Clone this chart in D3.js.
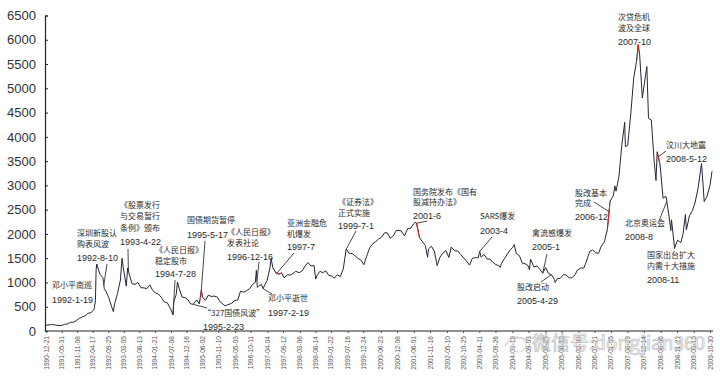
<!DOCTYPE html>
<html><head><meta charset="utf-8">
<script src="https://cdn.jsdelivr.net/npm/d3@7"></script>
<style>body{margin:0;background:#fff}svg{display:block}</style>
</head><body>
<svg id="c" width="720" height="377"></svg>
<script>
// ---- data (Shanghai Composite) ----
const dates = ["1990-12-19","1990-12-31","1991-01-31","1991-02-28","1991-03-29","1991-04-30","1991-05-31","1991-06-28","1991-07-31","1991-08-30","1991-09-30","1991-10-31","1991-11-29","1991-12-31",
"1992-01-31","1992-02-28","1992-03-31","1992-04-30","1992-05-15","1992-05-22","1992-05-29","1992-06-30","1992-07-31","1992-08-07","1992-08-14","1992-08-31","1992-09-30","1992-10-30","1992-11-17","1992-11-30","1992-12-31",
"1993-01-29","1993-02-15","1993-02-26","1993-03-31","1993-04-15","1993-04-30","1993-05-31","1993-06-30","1993-07-30","1993-08-31","1993-09-30","1993-10-29","1993-11-30","1993-12-31",
"1994-01-31","1994-02-28","1994-03-31","1994-04-29","1994-05-31","1994-06-30","1994-07-29","1994-08-05","1994-08-31","1994-09-13","1994-09-30","1994-10-31","1994-11-30","1994-12-30",
"1995-01-27","1995-02-24","1995-03-31","1995-04-28","1995-05-19","1995-05-31","1995-06-30","1995-07-31","1995-08-31","1995-09-29","1995-10-31","1995-11-30","1995-12-29",
"1996-01-19","1996-02-29","1996-03-29","1996-04-30","1996-05-31","1996-06-28","1996-07-31","1996-08-30","1996-09-30","1996-10-31","1996-11-29","1996-12-10","1996-12-20","1996-12-31",
"1997-01-31","1997-02-19","1997-02-28","1997-03-31","1997-04-30","1997-05-12","1997-05-30","1997-06-30","1997-07-31","1997-08-29","1997-09-23","1997-10-31","1997-11-28","1997-12-31",
"1998-01-23","1998-02-27","1998-03-31","1998-04-30","1998-05-29","1998-06-30","1998-07-31","1998-08-18","1998-08-31","1998-09-30","1998-10-30","1998-11-30","1998-12-31",
"1999-01-29","1999-02-26","1999-03-31","1999-04-30","1999-05-31","1999-06-30","1999-07-30","1999-08-31","1999-09-30","1999-10-29","1999-11-30","1999-12-30",
"2000-01-28","2000-02-29","2000-03-31","2000-04-28","2000-05-31","2000-06-30","2000-07-31","2000-08-31","2000-09-29","2000-10-31","2000-11-30","2000-12-29",
"2001-01-19","2001-02-23","2001-03-30","2001-04-30","2001-05-31","2001-06-14","2001-06-29","2001-07-31","2001-08-31","2001-09-28","2001-10-22","2001-10-31","2001-11-30","2001-12-31",
"2002-01-29","2002-02-28","2002-03-29","2002-04-30","2002-05-31","2002-06-24","2002-07-31","2002-08-30","2002-09-27","2002-10-31","2002-11-29","2002-12-31",
"2003-01-30","2003-02-28","2003-03-31","2003-04-16","2003-04-30","2003-05-30","2003-06-30","2003-07-31","2003-08-29","2003-09-30","2003-10-31","2003-11-14","2003-11-28","2003-12-31",
"2004-01-30","2004-02-27","2004-03-31","2004-04-07","2004-04-30","2004-05-31","2004-06-30","2004-07-30","2004-08-31","2004-09-13","2004-09-24","2004-10-29","2004-11-30","2004-12-31",
"2005-01-28","2005-02-28","2005-03-31","2005-04-29","2005-05-31","2005-06-06","2005-06-30","2005-07-29","2005-08-31","2005-09-30","2005-10-31","2005-11-30","2005-12-30",
"2006-01-25","2006-02-28","2006-03-31","2006-04-28","2006-05-31","2006-06-30","2006-07-31","2006-08-31","2006-09-29","2006-10-31","2006-11-30","2006-12-29",
"2007-01-31","2007-02-16","2007-02-28","2007-03-30","2007-04-30","2007-05-29","2007-06-05","2007-06-29","2007-07-31","2007-08-31","2007-09-28","2007-10-16","2007-10-31","2007-11-28","2007-12-31",
"2008-01-14","2008-01-31","2008-02-29","2008-03-31","2008-04-18","2008-04-30","2008-05-30","2008-06-30","2008-07-31","2008-08-29","2008-09-19","2008-09-26","2008-10-28","2008-10-31","2008-11-28","2008-12-31",
"2009-01-23","2009-02-17","2009-02-27","2009-03-31","2009-04-30","2009-05-27","2009-06-30","2009-07-31","2009-08-04","2009-08-31","2009-09-30","2009-10-30","2009-11-20"];
const values = [100,127,129,133,120,113,114,137,146,180,180,218,259,292,
313,365,377,445,620,1260,1380,1170,1100,1000,880,820,690,500,400,560,780,
1050,1500,1330,925,1300,1170,970,960,1000,890,890,870,950,833,
780,760,690,600,580,470,333,600,750,1010,880,700,690,647,
560,550,640,560,850,700,630,740,710,720,700,600,555,
520,550,570,630,640,820,800,830,870,960,1000,1250,900,917,
960,870,920,1040,1300,1500,1300,1200,1170,1200,1097,1160,1150,1194,
1230,1200,1240,1340,1410,1339,1350,1070,1140,1230,1200,1240,1147,
1135,1090,1158,1120,1280,1690,1600,1600,1550,1500,1460,1366,
1535,1714,1800,1836,1894,1928,2023,2021,1910,1961,2070,2073,
2065,1960,2112,2119,2214,2240,2218,1920,1834,1764,1520,1689,1747,1646,
1350,1524,1603,1657,1515,1730,1650,1650,1581,1506,1442,1357,
1500,1511,1510,1640,1521,1576,1486,1476,1421,1367,1348,1310,1397,1497,
1590,1675,1742,1780,1595,1555,1399,1386,1342,1260,1480,1320,1340,1266,
1191,1306,1181,1159,1060,1000,1080,1083,1162,1155,1092,1099,1161,
1258,1299,1298,1440,1641,1672,1612,1601,1752,1837,2099,2675,
2786,2990,2881,3183,3841,4300,3800,3820,4471,5218,5552,5900,5700,4800,5262,
5450,4383,4348,3472,3100,3693,3433,2736,2775,2397,2070,2290,1700,1729,1871,1821,
1990,2400,2082,2373,2477,2633,2959,3412,3450,2667,2779,2996,3290];

const yTicks = [0,500,1000,1500,2000,2500,3000,3500,4000,4500,5000,5500,6000,6500];
const xTickLabels = ["1990-12-21","1991-05-31","1991-11-08","1992-04-17","1992-09-25","1993-03-05","1993-08-13","1994-01-21","1994-07-08","1994-12-16",
"1995-06-02","1995-11-10","1996-05-03","1996-10-11","1997-04-04","1997-09-12","1998-03-06","1998-08-14","1999-01-22","1999-07-16",
"1999-12-24","2000-06-23","2000-12-08","2001-06-01","2001-11-16","2002-05-10","2002-10-25","2003-04-11","2003-09-26","2004-03-19",
"2004-09-03","2005-02-25","2005-08-12","2006-02-03","2006-07-21","2007-01-05","2007-06-29","2007-12-14","2008-06-06","2008-11-21",
"2009-05-15","2009-10-30"];

// event annotations: text lines and the date the leader points to
const eventText = [
 ["邓小平南巡","1992-1-19"],
 ["深圳新股认","购表风波","1992-8-10"],
 ["《股票发行","与交易暂行","条例》颁布","1993-4-22"],
 ["《人民日报》","稳定股市","1994-7-28"],
 ["国债期货暂停","1995-5-17"],
 ["“327国债风波”","1995-2-23"],
 ["《人民日报》","发表社论","1996-12-16"],
 ["邓小平逝世","1997-2-19"],
 ["亚洲金融危","机爆发","1997-7"],
 ["《证券法》","正式实施","1999-7-1"],
 ["国务院发布《国有","股减持办法》","2001-6"],
 ["SARS爆发","2003-4"],
 ["禽流感爆发","2005-1"],
 ["股改启动","2005-4-29"],
 ["股改基本","完成","2006-12"],
 ["次贷危机","波及全球","2007-10"],
 ["汶川大地震","2008-5-12"],
 ["北京奥运会","2008-8"],
 ["国家出台扩大","内需十大措施","2008-11"]
];
const eventDates = [null,"1992-08-10","1993-04-22","1994-07-29","1995-05-19","1995-02-24","1996-12-16","1997-02-19","1997-07-10","1999-07-01","2001-06-29","2003-04-16","2005-01-28","2005-04-29","2006-12-18",null,"2008-05-12","2008-08-08",null];
const highlightRanges = [["1995-05-10","1995-05-28"],["1997-06-20","1997-08-15"],["2001-06-18","2001-07-25"],["2006-12-01","2006-12-29"],["2007-10-05","2007-10-25"],["2008-05-05","2008-05-25"]];

// ---- layout (pixel positions: text left x, baselines per line, leader start) ----
const layout = [
 {x:52, ys:[288,303]},
 {x:77, ys:[236,247,261], l:[107,264]},
 {x:120,ys:[208,219,231,245], l:[128,249]},
 {x:155,ys:[253,264,277], l:[175,280]},
 {x:187,ys:[223,238], l:[205,241]},
 {x:203,ys:[316,330], l:[207,308]},
 {x:227,ys:[235,246,260], l:[259,262]},
 {x:268,ys:[301,316], l:[272,294]},
 {x:287,ys:[226,237,250], l:[294,253]},
 {x:338,ys:[205,216,229], l:[356,231]},
 {x:413,ys:[195,205,219], l:[427,221]},
 {x:480,ys:[219,234], l:[492,237]},
 {x:532,ys:[236,250], l:[547,254]},
 {x:517,ys:[290,304], l:[541,282]},
 {x:575,ys:[196,206,220], l:[594,202]},
 {x:618,ys:[20,31,45]},
 {x:666,ys:[148,162], l:[666,151]},
 {x:625,ys:[226,240], l:[659,221]},
 {x:647,ys:[258,269,283]}
];

const parse = d3.timeParse("%Y-%m-%d");
const series = dates.map((d,i)=>({date:parse(d), value:values[i]}));

const svg = d3.select("#c");
const m = {left:45, right:712, top:15.5, bottom:331};
const x = d3.scaleTime().domain([parse("1990-12-19"), parse("2009-11-20")]).range([m.left+1, m.right]);
const y = d3.scaleLinear().domain([0,6500]).range([m.bottom, m.top]);

// y axis
const yAxis = d3.axisLeft(y).tickValues(yTicks).tickSize(-3).tickPadding(9).tickFormat(d3.format("d"));
const gy = svg.append("g").attr("transform",`translate(${m.left},0)`).call(yAxis);
gy.select(".domain").attr("stroke","#222").attr("stroke-width",1.2);
gy.selectAll(".tick line").attr("stroke","#222");
gy.selectAll(".tick text").attr("font-family","Liberation Sans, Arial, sans-serif").attr("font-size",13).attr("fill","#333");

// x axis
const xAxis = d3.axisBottom(x).tickValues(xTickLabels.map(parse)).tickSize(2).tickFormat(d3.timeFormat("%Y-%m-%d"));
const gx = svg.append("g").attr("transform",`translate(0,${m.bottom})`).call(xAxis);
gx.select(".domain").attr("d",`M${m.left},0H${m.right+1}`).attr("stroke","#222").attr("stroke-width",1.2);
gx.selectAll(".tick line").attr("stroke","#555");
gx.selectAll(".tick text").attr("font-family","Liberation Sans, Arial, sans-serif").attr("font-size",6.6).attr("fill","#555")
  .attr("text-anchor","end").attr("dy","0.32em").attr("transform","translate(0,5) rotate(-90)").attr("x",0).attr("y",0);

// line
const line = d3.line().x(d=>x(d.date)).y(d=>y(d.value));
svg.append("path").datum(series).attr("d",line).attr("fill","none").attr("stroke","#26263a").attr("stroke-width",1).attr("stroke-linejoin","round");

// red highlights
const defs = svg.append("defs");
highlightRanges.forEach((r,i)=>{
  const x0 = x(parse(r[0])), x1 = x(parse(r[1]));
  defs.append("clipPath").attr("id","hl"+i).append("rect").attr("x",x0).attr("y",0).attr("width",x1-x0).attr("height",377);
  svg.append("path").datum(series).attr("d",line).attr("fill","none").attr("stroke","#d22").attr("stroke-width",1.1).attr("clip-path",`url(#hl${i})`);
});

// value on curve
const bis = d3.bisector(d=>d.date).left;
function valueAt(dt){
  const i = bis(series, dt);
  if(i<=0) return series[0].value;
  if(i>=series.length) return series[series.length-1].value;
  const a = series[i-1], b = series[i];
  const t = (dt - a.date)/(b.date - a.date);
  return a.value + t*(b.value - a.value);
}

// annotations
const ann = svg.append("g");
const isDate = s => /^[0-9\-]+$/.test(s);
eventText.forEach((lines,i)=>{
  const L = layout[i];
  lines.forEach((s,j)=>{
    ann.append("text").attr("x",L.x).attr("y",L.ys[j]).attr("fill","#2a2a2a")
      .attr("font-family", isDate(s) ? "Liberation Sans, Arial, sans-serif" : "'Noto Sans CJK SC', sans-serif")
      .attr("font-size", isDate(s) ? 9 : 8).text(s);
  });
  if(L.l && eventDates[i]){
    const dt = parse(eventDates[i]);
    ann.append("line").attr("x1",L.l[0]).attr("y1",L.l[1]).attr("x2",x(dt)).attr("y2",y(valueAt(dt)))
      .attr("stroke","#333").attr("stroke-width",0.9);
  }
});

// watermark
const wm = svg.append("g").attr("opacity",0.75);
wm.append("path").attr("d","M505,346 q8,-14 22,-6").attr("fill","none").attr("stroke","#bbb").attr("stroke-width",1.2);
wm.append("circle").attr("cx",519).attr("cy",345).attr("r",7).attr("fill","none").attr("stroke","#ccc").attr("stroke-width",1.2);
wm.append("text").attr("x",532).attr("y",350).attr("font-family","'Noto Sans CJK SC', sans-serif").attr("font-size",19)
  .attr("fill","#f4f4f4").attr("stroke","#aaa").attr("stroke-width",0.7).text("微信号:dongjian360");
</script>
</body></html>
